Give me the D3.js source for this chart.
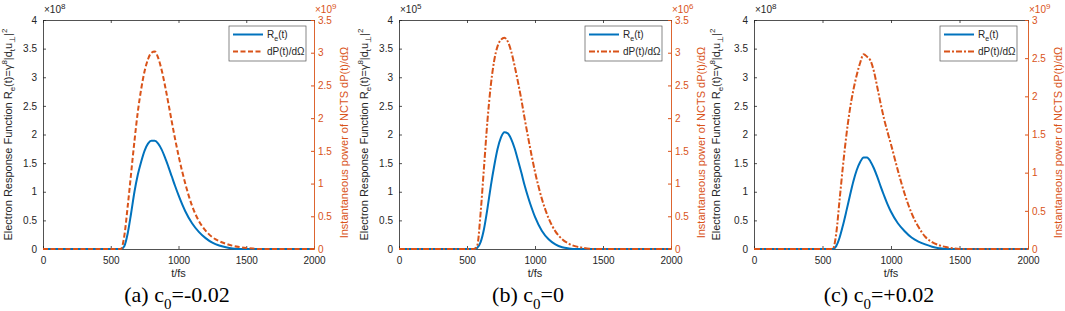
<!DOCTYPE html>
<html>
<head>
<meta charset="utf-8">
<script src="https://cdn.jsdelivr.net/npm/d3@7"></script>
<style>
body { margin: 0; background: #fff; }
svg { font-family: "Liberation Sans", Arial, sans-serif; }
</style>
</head>
<body>
<div id="chart"></div>
<script>
// DATA
const times = [0, 500, 550, 575, 600, 625, 650, 675, 700, 725, 750, 775, 800, 825, 850, 875, 900,
  925, 950, 975, 1000, 1050, 1100, 1150, 1200, 1250, 1300, 1350, 1400, 1450, 1500, 1550, 1600, 2000]

// panel (a) c0=-0.02   response in 1e8, power in 1e9
const respA = [0, 0, 0, 0, 0.05, 0.27, 0.62, 1.0, 1.3, 1.53, 1.72, 1.84, 1.89, 1.89, 1.84, 1.74, 1.60,
  1.44, 1.27, 1.10, 0.94, 0.66, 0.45, 0.30, 0.19, 0.11, 0.06, 0.03, 0.01, 0, 0, 0, 0, 0]
const powA = [0, 0, 0, 0, 0.2, 0.65, 1.15, 1.65, 2.1, 2.45, 2.72, 2.9, 3.0, 3.02, 2.92, 2.74, 2.5,
  2.23, 1.95, 1.68, 1.43, 1.0, 0.66, 0.43, 0.28, 0.18, 0.12, 0.08, 0.05, 0.03, 0.015, 0.006, 0, 0]

// panel (b) c0=0   response in 1e5, power in 1e6
const respB = [0, 0, 0, 0.02, 0.12, 0.35, 0.7, 1.1, 1.45, 1.75, 1.95, 2.04, 2.02, 1.92, 1.76, 1.55, 1.33,
  1.1, 0.9, 0.72, 0.56, 0.32, 0.17, 0.08, 0.03, 0.01, 0, 0, 0, 0, 0, 0, 0, 0]
const powB = [0, 0, 0, 0.05, 0.55, 1.25, 1.95, 2.5, 2.88, 3.1, 3.2, 3.23, 3.17, 3.02, 2.8, 2.55, 2.28,
  1.98, 1.7, 1.43, 1.18, 0.77, 0.47, 0.27, 0.15, 0.08, 0.04, 0.02, 0.005, 0, 0, 0, 0, 0]

// panel (c) c0=+0.02   response in 1e8, power in 1e9
const respC = [0, 0, 0, 0, 0.05, 0.2, 0.42, 0.67, 0.93, 1.18, 1.38, 1.52, 1.6, 1.6, 1.53, 1.41, 1.26,
  1.09, 0.93, 0.78, 0.65, 0.45, 0.31, 0.2, 0.13, 0.08, 0.04, 0.015, 0, 0, 0, 0, 0, 0]
const powC = [0, 0, 0, 0, 0.2, 0.65, 1.1, 1.5, 1.83, 2.08, 2.28, 2.44, 2.55, 2.52, 2.47, 2.33, 2.12,
  1.9, 1.7, 1.53, 1.37, 1.03, 0.72, 0.47, 0.29, 0.16, 0.09, 0.05, 0.025, 0.01, 0, 0, 0, 0]

const panelTags = ["(a)", "(b)", "(c)"]
const c0Values = ["-0.02", "0", "+0.02"]
const leftExp = ["8", "5", "8"]
const rightExp = ["9", "6", "9"]
const rightMax = [3.5, 3.5, 3]
const leftMax = 4
const xTicks = [0, 500, 1000, 1500, 2000]
const legendNames = ["R", "dP(t)/dΩ"]

// LAYOUT
const blue = "#0072BD", orange = "#D95319", ink = "#262626"
const lefts = [43, 399, 754], widths = [271, 272, 274]
const plotTop = 20, plotBottom = 249
const ylabOffset = [-31, -31, -34]
const capX = [177, 528, 879]

const svg = d3.select("#chart").append("svg")
    .attr("width", 1065)
    .attr("height", 311)

const series = [[respA, powA], [respB, powB], [respC, powC]]

series.forEach(function (s, i) {
  const w = widths[i]
  const g = svg.append("g").attr("transform", `translate(${lefts[i]},0)`)

  // SCALES
  const x = d3.scaleLinear().domain([0, 2000]).range([0, w])
  const yL = d3.scaleLinear().domain([0, leftMax]).range([plotBottom, plotTop])
  const yR = d3.scaleLinear().domain([0, rightMax[i]]).range([plotBottom, plotTop])

  // AXES
  const gx = g.append("g").attr("transform", `translate(0,${plotBottom})`)
      .call(d3.axisBottom(x).tickValues(xTicks).tickFormat(d3.format("d"))
        .tickSizeInner(-3).tickSizeOuter(0).tickPadding(8))
  const gt = g.append("g").attr("transform", `translate(0,${plotTop})`)
      .call(d3.axisTop(x).tickValues(xTicks).tickSizeInner(-3).tickSizeOuter(0).tickFormat(""))
  const gl = g.append("g")
      .call(d3.axisLeft(yL).tickValues(d3.range(0, leftMax + 0.01, 0.5))
        .tickFormat(d3.format("~g")).tickSizeInner(-3).tickSizeOuter(0).tickPadding(6))
  const gr = g.append("g").attr("transform", `translate(${w},0)`)
      .call(d3.axisRight(yR).tickValues(d3.range(0, rightMax[i] + 0.01, 0.5))
        .tickFormat(d3.format("~g")).tickSizeInner(-3).tickSizeOuter(0).tickPadding(4))

  ;[gx, gt, gl].forEach(a => {
    a.select(".domain").attr("stroke", ink).attr("stroke-width", 0.8)
    a.selectAll(".tick line").attr("stroke", ink).attr("stroke-width", 0.8)
    a.selectAll("text").attr("fill", ink).attr("font-size", 10)
      .attr("font-family", '"Liberation Sans", Arial, sans-serif')
  })
  gr.select(".domain").attr("stroke", orange).attr("stroke-width", 0.9)
  gr.selectAll(".tick line").attr("stroke", orange)
  gr.selectAll("text").attr("fill", orange).attr("font-size", 10)
    .attr("font-family", '"Liberation Sans", Arial, sans-serif')

  // exponent labels
  const el = g.append("text").attr("x", 1).attr("y", 13).attr("font-size", 10).attr("fill", ink)
  el.append("tspan").text("×10")
  el.append("tspan").attr("font-size", 8).attr("dy", -4).text(leftExp[i])
  const er = g.append("text").attr("x", w + 1).attr("y", 13).attr("font-size", 10).attr("fill", orange)
  er.append("tspan").text("×10")
  er.append("tspan").attr("font-size", 8).attr("dy", -4).text(rightExp[i])

  // axis titles
  g.append("text").attr("x", w / 2).attr("y", 277).attr("text-anchor", "middle")
      .attr("font-size", 11).attr("fill", ink).text("t/fs")

  const yl = g.append("text")
      .attr("transform", `translate(${ylabOffset[i]},${(plotTop + plotBottom) / 2}) rotate(-90)`)
      .attr("text-anchor", "middle").attr("font-size", 11).attr("fill", ink)
  yl.append("tspan").text("Electron Response Function R")
  yl.append("tspan").attr("font-size", 8).attr("dy", 3).text("e")
  yl.append("tspan").attr("dy", -3).text("(t)=γ")
  yl.append("tspan").attr("font-size", 8).attr("dy", -5).text("8")
  yl.append("tspan").attr("dy", 5).text("|d")
  yl.append("tspan").attr("font-size", 8).attr("dy", 3).text("t")
  yl.append("tspan").attr("dy", -3).text("u")
  yl.append("tspan").attr("font-size", 8).attr("dy", 3).text("⊥")
  yl.append("tspan").attr("dy", -3).text("|")
  yl.append("tspan").attr("font-size", 8).attr("dy", -5).text("2")

  g.append("text")
      .attr("transform", `translate(${w + 34},${(plotTop + plotBottom) / 2 + 8}) rotate(-90)`)
      .attr("text-anchor", "middle").attr("font-size", 11).attr("fill", orange)
      .text("Instantaneous power of NCTS dP(t)/dΩ")

  // LINES
  const respLine = d3.line().x((d, k) => x(times[k])).y(d => yL(d)).curve(d3.curveMonotoneX)
  const powLine = d3.line().x((d, k) => x(times[k])).y(d => yR(d)).curve(d3.curveMonotoneX)
  const dash = i === 0 ? "5,2.5" : "6,2,2,2"

  g.append("path").datum(s[0]).attr("d", respLine)
      .attr("fill", "none").attr("stroke", blue).attr("stroke-width", 2)
  g.append("path").datum(s[1]).attr("d", powLine)
      .attr("fill", "none").attr("stroke", orange).attr("stroke-width", 2)
      .attr("stroke-dasharray", dash)

  // LEGEND
  const lg = g.append("g").attr("transform", "translate(186,26)")
  lg.append("rect").attr("width", 77).attr("height", 35)
      .attr("fill", "#fff").attr("stroke", "#555").attr("stroke-width", 0.7)
  lg.append("line").attr("x1", 4).attr("x2", 34).attr("y1", 8.5).attr("y2", 8.5)
      .attr("stroke", blue).attr("stroke-width", 2)
  lg.append("line").attr("x1", 4).attr("x2", 34).attr("y1", 25.5).attr("y2", 25.5)
      .attr("stroke", orange).attr("stroke-width", 2).attr("stroke-dasharray", dash)
  const t1 = lg.append("text").attr("x", 38).attr("y", 12).attr("font-size", 10).attr("fill", ink)
  t1.append("tspan").text(legendNames[0])
  t1.append("tspan").attr("font-size", 7).attr("dy", 2.5).text("e")
  t1.append("tspan").attr("dy", -2.5).text("(t)")
  lg.append("text").attr("x", 38).attr("y", 29).attr("font-size", 10).attr("fill", ink)
      .text(legendNames[1])

  // CAPTION
  const cap = svg.append("text").attr("x", capX[i]).attr("y", 302)
      .attr("text-anchor", "middle").attr("font-family", '"Liberation Serif", "Times New Roman", serif')
      .attr("font-size", 22).attr("fill", "#000")
  cap.append("tspan").text(panelTags[i] + " c")
  cap.append("tspan").attr("font-size", 15).attr("dy", 7).text("0")
  cap.append("tspan").attr("dy", -7).text("=" + c0Values[i])
})
</script>
</body>
</html>
